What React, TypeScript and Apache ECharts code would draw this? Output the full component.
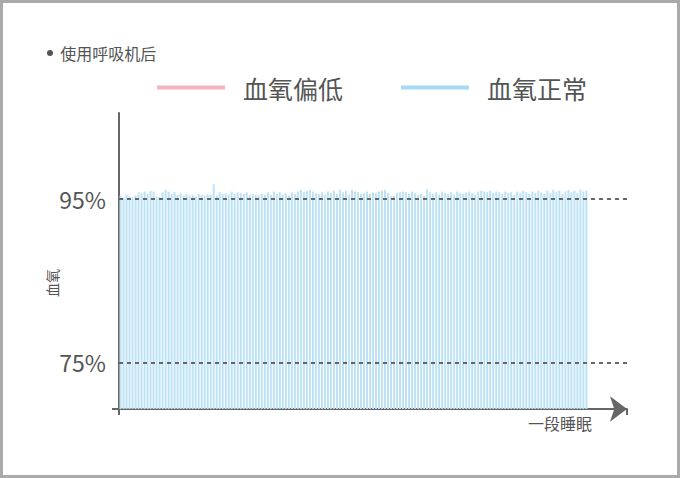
import {useEffect, useRef} from "react";
import * as echarts from "echarts";

// spo2 readings for one sleep session, after using the ventilator
const normalValues = [
    95.4, 95.2, 95.5, 95.3, 95.2, 95.4, 95.8, 95.7, 95.9, 95.6, 96.0, 95.9,
    95.3, 95.2, 95.8, 96.1, 95.9, 95.6, 95.8, 95.5, 95.7, 95.4, 95.6,
    95.4, 95.5, 95.3, 95.6, 95.5, 95.4, 95.6, 95.5, 96.8,
    95.4, 95.8, 95.6, 95.7, 95.5, 95.9, 95.6, 95.8, 95.7, 95.6, 95.8, 95.5, 95.6,
    95.5, 95.4, 95.6, 95.5, 95.8, 95.5, 95.9, 95.6, 95.8, 95.5, 95.7, 95.4, 95.8, 95.6,
    95.9, 96.1, 95.8, 96.0, 96.1, 95.9, 95.7, 95.6, 95.8, 95.5, 95.9, 95.7,
    96.0, 95.6, 96.1, 95.8, 96.0, 95.5, 96.1, 95.9,
    95.8, 95.6, 95.7, 95.9, 95.6, 95.8, 95.7, 95.9, 96.0, 96.1, 95.7,
    95.3, 95.4,
    95.7, 95.8, 95.9, 95.8, 95.6, 95.9, 95.7, 95.5, 95.6, 95.4,
    96.2, 95.8,
    95.6, 95.8, 95.5, 95.9, 95.7, 95.6, 95.8, 95.5,
    95.9, 95.7, 95.6, 95.8, 95.9, 95.7, 95.5,
    95.9, 96.0, 95.9, 95.8, 96.0, 95.7, 95.9,
    95.8, 95.6, 95.9, 95.7, 95.8, 95.5, 95.9,
    95.7, 96.0, 95.8, 95.6, 95.9, 95.7, 96.0, 95.8, 95.6,
    96.0, 95.7, 96.1, 95.8, 96.0, 95.6, 95.9, 96.1,
    95.8, 96.0, 95.7, 96.1, 95.9, 96.0,
];
const lowValues: number[] = [];
const categories = normalValues.map((_, i) => String(i + 1));
const yTickLabels = [75, 95];
const yMin = 69.3;
const yMax = 105.5;
const slotCount = 169;

const FONT = "'Noto Sans CJK SC', 'Noto Sans', sans-serif";

export default function App() {
    const domRef = useRef<HTMLDivElement>(null);

    useEffect(() => {
        if (!domRef.current) return;
        const chart = echarts.init(domRef.current, null, {renderer: "svg"});
        chart.setOption({
            animation: false,
            backgroundColor: "#fff",
            textStyle: {fontFamily: FONT},
            title: {
                left: 47,
                top: 45,
                padding: 0,
                text: "{d|}  使用呼吸机后",
                textStyle: {
                    fontSize: 16,
                    fontWeight: "normal",
                    color: "#555",
                    fontFamily: FONT,
                    rich: {d: {width: 6, height: 6, borderRadius: 3, backgroundColor: "#555"}},
                },
            },
            legend: {
                left: 157,
                top: 75,
                padding: 0,
                icon: "rect",
                itemWidth: 68,
                itemHeight: 4,
                itemGap: 58,
                textStyle: {fontSize: 25, color: "#555", fontFamily: FONT, padding: [0, 0, 0, 13]},
                data: [
                    {name: "血氧偏低", itemStyle: {color: "#f4b4bb"}},
                    {name: "血氧正常", itemStyle: {color: "#a6d9f3"}},
                ],
            },
            grid: {left: 119, right: 53, top: 113, bottom: 69, outerBoundsMode: "none"},
            xAxis: {
                type: "category",
                data: categories,
                max: slotCount - 1,
                name: "一段睡眠",
                nameLocation: "end",
                nameGap: -35,
                nameTextStyle: {fontSize: 16, color: "#555", align: "right", verticalAlign: "top", padding: [6, 0, 0, 0]},
                axisLine: {
                    lineStyle: {color: "#666", width: 2},
                    symbol: ["none", "arrow"],
                    symbolSize: [19, 17],
                },
                axisTick: {show: true, length: 6, interval: (i: number) => i === 0, lineStyle: {color: "#666", width: 2}},
                axisLabel: {show: false},
                splitLine: {show: false},
            },
            yAxis: {
                type: "value",
                min: yMin,
                max: yMax,
                axisLine: {show: true, lineStyle: {color: "#666", width: 2}},
                axisTick: {show: true, customValues: [yMin], length: 7, lineStyle: {color: "#666", width: 2}},
                axisLabel: {
                    customValues: yTickLabels,
                    formatter: "{value}%",
                    fontSize: 23,
                    color: "#555",
                    margin: 13,
                    fontFamily: FONT,
                },
                splitLine: {show: false},
            },
            graphic: [
                {
                    type: "rect",
                    shape: {x: 1.5, y: 1.5, width: 677, height: 475},
                    style: {fill: "none", stroke: "#aaa", lineWidth: 3},
                    silent: true,
                },
                {
                    type: "text",
                    x: 52,
                    y: 283,
                    rotation: Math.PI / 2,
                    style: {text: "血氧", fontSize: 14, fill: "#555", fontFamily: FONT, align: "center", verticalAlign: "middle"},
                },
            ],
            series: [
                {
                    name: "血氧偏低",
                    type: "bar",
                    data: lowValues,
                    itemStyle: {color: "#f4b4bb"},
                },
                {
                    name: "血氧正常",
                    type: "bar",
                    data: normalValues,
                    barGap: "-100%",
                    barCategoryGap: "33%",
                    itemStyle: {color: "#bde2f5"},
                    markLine: {
                        silent: true,
                        symbol: "none",
                        label: {show: false},
                        lineStyle: {color: "#666", type: [4, 4], width: 2},
                        data: yTickLabels.map(v => ({yAxis: v})),
                    },
                },
            ],
        });

        return () => chart.dispose();
    }, []);

    return <div ref={domRef} style={{position: "fixed", left: 0, top: 0, width: 680, height: 478}} />;
}
